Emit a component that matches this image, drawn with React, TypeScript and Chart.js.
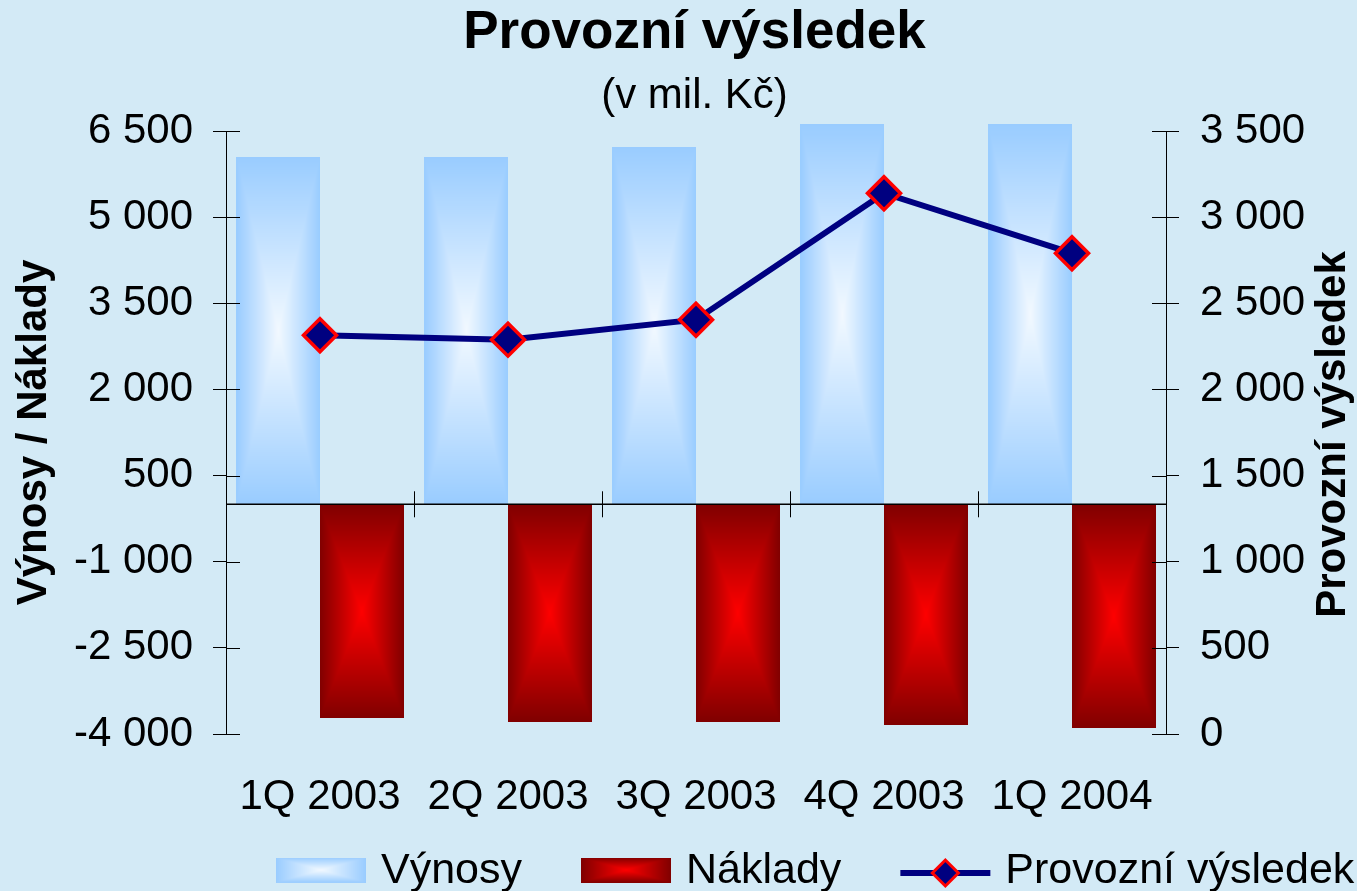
import React, { useEffect, useRef } from 'react';
import { Chart, registerables } from 'chart.js';

Chart.register(...registerables);

// ---- data ----
const categories = ['1Q 2003', '2Q 2003', '3Q 2003', '4Q 2003', '1Q 2004'];
const vynosy = [6048, 6048, 6222, 6622, 6622];
const naklady = [-3722, -3786, -3786, -3838, -3896];
const provozniVysledek = [2314, 2289, 2405, 3139, 2791];
const leftTicks = [-4000, -2500, -1000, 500, 2000, 3500, 5000, 6500];
const rightTicks = [0, 500, 1000, 1500, 2000, 2500, 3000, 3500];
const seriesLabels = ['Výnosy', 'Náklady', 'Provozní výsledek'];
const titleText = 'Provozní výsledek';
const subtitleText = '(v mil. Kč)';
const leftAxisTitle = 'Výnosy / Náklady';
const rightAxisTitle = 'Provozní výsledek';

// ---- styles ----
const BG = '#D3EAF6';
const FONT = "'Liberation Sans', Arial, sans-serif";
const BLUE_EDGE = [153, 204, 255];
const BLUE_CENTER = [242, 249, 255];
const RED_EDGE = [128, 0, 0];
const RED_CENTER = [255, 0, 0];
const NAVY = '#000080';
const RED = '#FF0000';

function fmt(v: number) {
  const s = String(Math.abs(v)).replace(/\B(?=(\d{3})+(?!\d))/g, '\u00a0');
  return (v < 0 ? '-' : '') + s;
}

function gradientCanvas(w: number, h: number, edge: number[], center: number[]) {
  const W = Math.max(1, Math.round(w));
  const H = Math.max(1, Math.round(h));
  const c = document.createElement('canvas');
  c.width = W;
  c.height = H;
  const cx = c.getContext('2d')!;
  const img = cx.createImageData(W, H);
  const hw = W / 2;
  const hh = H / 2;
  for (let y = 0; y < H; y++) {
    const ty = Math.abs(y + 0.5 - hh) / hh;
    for (let x = 0; x < W; x++) {
      const tx = Math.abs(x + 0.5 - hw) / hw;
      const t = Math.min(1, Math.max(tx, ty));
      const i = (y * W + x) * 4;
      img.data[i] = center[0] + (edge[0] - center[0]) * t;
      img.data[i + 1] = center[1] + (edge[1] - center[1]) * t;
      img.data[i + 2] = center[2] + (edge[2] - center[2]) * t;
      img.data[i + 3] = 255;
    }
  }
  cx.putImageData(img, 0, 0);
  return c;
}

const barGradientPlugin = {
  id: 'barGradient',
  afterDatasetDraw(chart: any, args: any) {
    const ds = chart.data.datasets[args.index];
    if (!ds.rectGradient) return;
    const ctx = chart.ctx;
    const [edge, center] = ds.rectGradient;
    args.meta.data.forEach((el: any) => {
      const { x, y, base, width } = el.getProps(['x', 'y', 'base', 'width'], true);
      const top = Math.min(y, base);
      const h = Math.abs(base - y);
      const left = x - width / 2;
      ctx.drawImage(gradientCanvas(width, h, edge, center), left, top, width, h);
    });
  },
};

const axisDecorPlugin = {
  id: 'axisDecor',
  afterDatasetsDraw(chart: any) {
    const { ctx, chartArea, scales } = chart;
    const x = scales.x;
    const y = scales.y;
    const y1 = scales.y1;
    const zero = y.getPixelForValue(0);
    ctx.save();
    ctx.strokeStyle = '#000';
    ctx.lineWidth = 1.5;
    ctx.beginPath();
    ctx.moveTo(chartArea.left, zero);
    ctx.lineTo(chartArea.right, zero);
    ctx.stroke();
    ctx.lineWidth = 1;
    ctx.beginPath();
    for (let i = 0; i <= categories.length; i++) {
      const px = Math.round(x.getPixelForValue(i - 0.5)) + 0.5;
      ctx.moveTo(px, zero - 13);
      ctx.lineTo(px, zero + 13);
    }
    y.ticks.forEach((t: any) => {
      const py = Math.round(y.getPixelForValue(t.value)) + 0.5;
      ctx.moveTo(chartArea.left, py);
      ctx.lineTo(chartArea.left + 14, py);
    });
    y1.ticks.forEach((t: any) => {
      const py = Math.round(y1.getPixelForValue(t.value)) + 0.5;
      ctx.moveTo(chartArea.right - 14, py);
      ctx.lineTo(chartArea.right, py);
    });
    ctx.stroke();
    ctx.restore();
  },
};

function drawDiamond(ctx: CanvasRenderingContext2D, cx: number, cy: number, r: number, bw: number) {
  ctx.beginPath();
  ctx.moveTo(cx - r, cy);
  ctx.lineTo(cx, cy - r);
  ctx.lineTo(cx + r, cy);
  ctx.lineTo(cx, cy + r);
  ctx.closePath();
  ctx.fillStyle = NAVY;
  ctx.fill();
  ctx.lineWidth = bw;
  ctx.strokeStyle = RED;
  ctx.stroke();
}

const rightTitleLegendPlugin = {
  id: 'rightTitleLegend',
  afterDraw(chart: any) {
    const { ctx, chartArea } = chart;
    ctx.save();
    // right axis title, rotated like the left one
    ctx.font = `bold 42px ${FONT}`;
    ctx.fillStyle = '#000';
    ctx.textAlign = 'center';
    ctx.textBaseline = 'middle';
    ctx.translate(chartArea.right + 167, (chartArea.top + chartArea.bottom) / 2 + 2);
    ctx.rotate(-Math.PI / 2);
    ctx.fillText(rightAxisTitle, 0, 0);
    ctx.restore();

    // legend
    ctx.save();
    ctx.font = `43px ${FONT}`;
    ctx.textBaseline = 'middle';
    ctx.textAlign = 'left';
    const swW = 90;
    const swH = 25;
    const cy = 871;
    let xx = 276;
    seriesLabels.forEach((label, i) => {
      if (i === 0 || i === 1) {
        const [edge, center] = i === 0 ? [BLUE_EDGE, BLUE_CENTER] : [RED_EDGE, RED_CENTER];
        ctx.drawImage(gradientCanvas(swW, swH, edge, center), xx, cy - swH / 2 - 1);
      } else {
        ctx.strokeStyle = NAVY;
        ctx.lineWidth = 6;
        ctx.beginPath();
        ctx.moveTo(xx, cy + 2);
        ctx.lineTo(xx + swW, cy + 2);
        ctx.stroke();
        drawDiamond(ctx, xx + swW / 2, cy + 2, 13, 3);
      }
      xx += swW + 15;
      ctx.fillStyle = '#000';
      ctx.fillText(label, xx, cy);
      xx += ctx.measureText(label).width + 59;
    });
    ctx.restore();
  },
};

export default function App() {
  const ref = useRef<HTMLCanvasElement | null>(null);

  useEffect(() => {
    if (!ref.current) return;
    const tickFont = { family: FONT, size: 42 };
    const chart = new Chart(ref.current, {
      type: 'bar',
      data: {
        labels: categories,
        datasets: [
          {
            type: 'bar',
            label: seriesLabels[0],
            data: vynosy,
            yAxisID: 'y',
            order: 1,
            backgroundColor: 'rgb(153,204,255)',
            borderWidth: 0,
            clip: false,
            rectGradient: [BLUE_EDGE, BLUE_CENTER],
          } as any,
          {
            type: 'bar',
            label: seriesLabels[1],
            data: naklady,
            yAxisID: 'y',
            order: 1,
            backgroundColor: 'rgb(128,0,0)',
            borderWidth: 0,
            clip: false,
            rectGradient: [RED_EDGE, RED_CENTER],
          } as any,
          {
            type: 'line',
            label: seriesLabels[2],
            data: provozniVysledek,
            yAxisID: 'y1',
            order: 0,
            borderColor: NAVY,
            borderWidth: 6,
            tension: 0,
            pointStyle: 'rectRot',
            pointRadius: 16.5,
            pointBackgroundColor: NAVY,
            pointBorderColor: RED,
            pointBorderWidth: 3.5,
            clip: false,
          } as any,
        ],
      },
      options: {
        responsive: false,
        animation: false,
        devicePixelRatio: 1,
        layout: { padding: { left: 16, right: -16, top: 0, bottom: 0 } },
        datasets: { bar: { categoryPercentage: 0.89, barPercentage: 1 } },
        plugins: {
          legend: { display: false },
          tooltip: { enabled: false },
          title: {
            display: true,
            text: titleText,
            color: '#000',
            font: { family: FONT, size: 53, weight: 'bold', lineHeight: 1.2 },
            padding: { top: 2, bottom: 6 },
          },
          subtitle: {
            display: true,
            text: subtitleText,
            color: '#000',
            font: { family: FONT, size: 42, weight: 'normal', lineHeight: 1.2 },
            padding: { top: 0, bottom: 9 },
          },
        },
        scales: {
          x: {
            type: 'category',
            position: 'bottom',
            grid: { display: false, drawTicks: false },
            border: { display: false },
            ticks: { color: '#000', font: tickFont, padding: 38, maxRotation: 0, autoSkip: false },
            afterFit: (s: any) => {
              s.height = 157;
            },
          },
          y: {
            type: 'linear',
            position: 'left',
            min: -4000,
            max: 6500,
            afterBuildTicks: (s: any) => {
              s.ticks = leftTicks.map((v) => ({ value: v }));
            },
            ticks: { color: '#000', font: tickFont, padding: 20, callback: (v: any) => fmt(Number(v)) },
            grid: { drawOnChartArea: false, drawTicks: true, tickLength: 13, color: '#000', lineWidth: 1 },
            border: { display: true, color: '#000', width: 1 },
            title: {
              display: true,
              text: leftAxisTitle,
              color: '#000',
              font: { family: FONT, size: 42, weight: 'bold', lineHeight: 1.2 },
              padding: { top: -7, bottom: 0 },
            },
            afterFit: (s: any) => {
              s.width = 210;
            },
          },
          y1: {
            type: 'linear',
            position: 'right',
            min: 0,
            max: 3500,
            afterBuildTicks: (s: any) => {
              s.ticks = rightTicks.map((v) => ({ value: v }));
            },
            ticks: { color: '#000', font: tickFont, padding: 21, callback: (v: any) => fmt(Number(v)) },
            grid: { drawOnChartArea: false, drawTicks: true, tickLength: 13, color: '#000', lineWidth: 1 },
            border: { display: true, color: '#000', width: 1 },
            afterFit: (s: any) => {
              s.width = 207;
            },
          },
        },
      } as any,
      plugins: [barGradientPlugin, axisDecorPlugin, rightTitleLegendPlugin],
    });
    return () => chart.destroy();
  }, []);

  return (
    <div
      style={{
        position: 'fixed',
        left: 0,
        top: 0,
        width: 1357,
        height: 891,
        background: BG,
      }}
    >
      <canvas ref={ref} width={1357} height={891} style={{ display: 'block', width: 1357, height: 891 }} />
    </div>
  );
}
